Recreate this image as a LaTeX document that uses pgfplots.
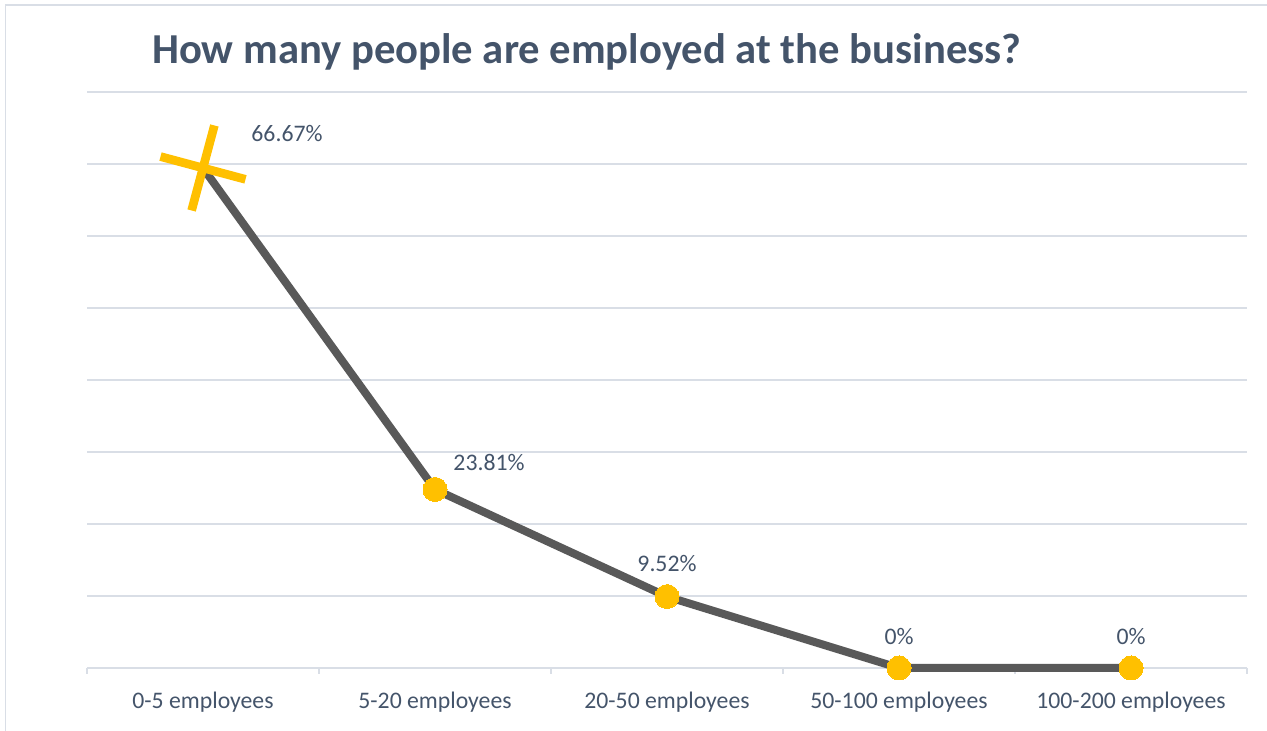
\documentclass[border=0pt]{standalone}
\usepackage{pgfplots}
\pgfplotsset{compat=1.18}
\usepackage{fontspec}
\setmainfont{Carlito}
\definecolor{txt}{HTML}{44546A}
\definecolor{gridc}{HTML}{D9DEE6}
\definecolor{linec}{HTML}{595959}
\definecolor{gold}{HTML}{FFC000}
\begin{document}
\begin{tikzpicture}
\path[use as bounding box] (0,0) rectangle (950.25pt,548.25pt);
\draw[gridc, line width=1.2pt] (4.1pt,0) -- (4.1pt,544.5pt) -- (950.25pt,544.5pt);
\node[font=\fontsize{32}{38}\selectfont\bfseries, text=txt] at (440pt,509.25pt) {How many people are employed at the business?};
\begin{axis}[
  scale only axis,
  width=870pt, height=432pt,
  at={(65.25pt,47.25pt)}, anchor=south west,
  xmin=-0.5, xmax=4.5, ymin=0, ymax=76.8,
  axis x line*=bottom,
  axis y line*=left,
  x axis line style={gridc, line width=1.2pt, -},
  y axis line style={draw=none},
  xtick={-0.5,0.5,1.5,2.5,3.5,4.5},
  x tick label as interval,
  xticklabels={0-5 employees,5-20 employees,20-50 employees,50-100 employees,100-200 employees},
  xticklabel style={font=\fontsize{17.8}{20}\selectfont, text=txt, yshift=-10pt},
  x tick style={gridc, line width=1.2pt},
  tick align=outside,
  major tick length=4.5pt,
  ytick={0,9.6,...,76.9},
  yticklabels={},
  y tick style={draw=none},
  ymajorgrids,
  y grid style={gridc, line width=1.2pt},
  clip=false,
]
\addplot[only marks, mark=+, mark size=33pt, mark options={rotate=-15, gold, line width=6.5pt}] coordinates {(0,66.67)};
\addplot[linec, line width=6pt, mark=*, mark indices={2,3,4,5}, mark size=9pt, mark options={gold, fill=gold, draw=gold, line width=0pt}] coordinates {(0,66.67) (1,23.81) (2,9.52) (3,0) (4,0)};
\node[font=\fontsize{17.8}{20}\selectfont, text=txt] at (axis cs:0,66.67) [xshift=63pt, yshift=26pt] {66.67\%};
\node[font=\fontsize{17.8}{20}\selectfont, text=txt] at (axis cs:1,23.81) [xshift=40.5pt, yshift=20pt] {23.81\%};
\node[font=\fontsize{17.8}{20}\selectfont, text=txt] at (axis cs:2,9.52) [yshift=24.5pt] {9.52\%};
\node[font=\fontsize{17.8}{20}\selectfont, text=txt] at (axis cs:3,0) [yshift=23.5pt] {0\%};
\node[font=\fontsize{17.8}{20}\selectfont, text=txt] at (axis cs:4,0) [yshift=23.5pt] {0\%};
\end{axis}
\end{tikzpicture}
\end{document}
